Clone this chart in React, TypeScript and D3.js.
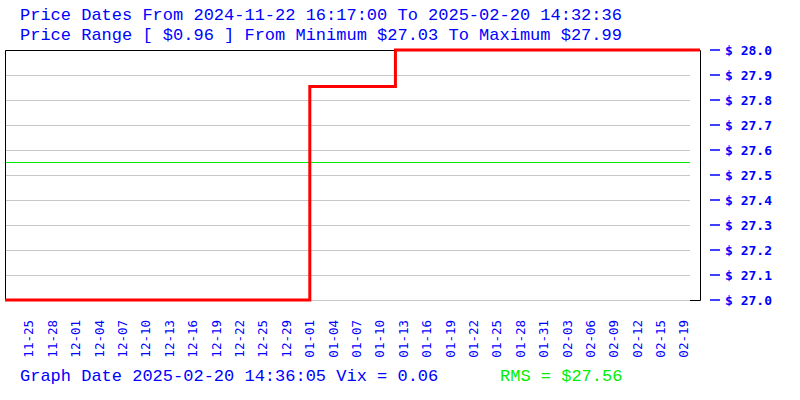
import React from "react";
import * as d3 from "d3";

// Tick labels along the bottom (evenly spaced slots)
const xLabels = [
  "11-25", "11-28", "12-01", "12-04", "12-07", "12-10", "12-13", "12-16",
  "12-19", "12-22", "12-25", "12-29", "01-01", "01-04", "01-07", "01-10",
  "01-13", "01-16", "01-19", "01-22", "01-25", "01-28", "01-31", "02-03",
  "02-06", "02-09", "02-12", "02-15", "02-19",
];
// Price series: position in label-slot units, price
const pricePos = [-1.03, 12.0, 12.0, 15.66, 15.66, 28.68];
const priceVal = [27.03, 27.03, 27.85, 27.85, 27.99, 27.99];
const xDomain = [-1.03, 28.68];
const priceMin = 27.03;
const priceMax = 27.99;
const rms = 27.56;
const yTickCount = 10;

const titleLine1 = "Price Dates From 2024-11-22 16:17:00 To 2025-02-20 14:32:36";
const titleLine2 = "Price Range [ $0.96 ] From Minimum $27.03 To Maximum $27.99";
const footerLeft = "Graph Date 2025-02-20 14:36:05 Vix = 0.06";
const footerRight = "RMS = $27.56";

const BLUE = "#0000ff";
const GREEN = "#00ee00";
const MONO = "'Liberation Mono', monospace";
const DJ = "'DejaVu Sans Mono', monospace";

export default function App() {
  const left = 5, right = 700, top = 50, bottom = 300, gridRight = 690;
  const x = d3.scaleLinear().domain(xDomain).range([left, right]);
  const y = d3.scaleLinear().domain([priceMin, priceMax]).range([bottom, top]);
  const yTicks = d3.range(yTickCount + 1).map(
    (i) => priceMin + (i * (priceMax - priceMin)) / yTickCount
  );
  const pts: [number, number][] = pricePos.map((p, i) => [p, priceVal[i]]);
  const line = d3
    .line<[number, number]>()
    .x((d) => x(d[0]))
    .y((d) => y(d[1]));

  return (
    <svg
      width={800}
      height={400}
      style={{ position: "absolute", left: 0, top: 0, background: "#fff" }}
    >
      <rect x={0} y={0} width={800} height={400} fill="#fff" />
      <text x={20} y={20} fontFamily={MONO} fontSize={17} fill={BLUE}>
        {titleLine1}
      </text>
      <text x={20} y={40} fontFamily={MONO} fontSize={17} fill={BLUE}>
        {titleLine2}
      </text>

      {/* gridlines */}
      {yTicks.map((t, i) => (
        <line
          key={"g" + i}
          x1={left}
          x2={gridRight}
          y1={Math.round(y(t)) + 0.5}
          y2={Math.round(y(t)) + 0.5}
          stroke="#c8c8c8"
          strokeWidth={1}
        />
      ))}
      {/* RMS line */}
      <line
        x1={left}
        x2={gridRight}
        y1={Math.round(y(rms)) + 0.5}
        y2={Math.round(y(rms)) + 0.5}
        stroke={GREEN}
        strokeWidth={1}
      />

      {/* frame */}
      <path
        d={`M${left + 0.5},${bottom} L${left + 0.5},${top + 0.5} L${right + 0.5},${top + 0.5} L${right + 0.5},${bottom + 0.5} L${gridRight},${bottom + 0.5}`}
        fill="none"
        stroke="#000"
        strokeWidth={1}
      />

      {/* price */}
      <path d={line(pts) || ""} fill="none" stroke="#ff0000" strokeWidth={3} />

      {/* right axis */}
      {yTicks.map((t, i) => (
        <g key={"t" + i}>
          <line
            x1={710}
            x2={720}
            y1={y(t)}
            y2={y(t)}
            stroke={BLUE}
            strokeWidth={1.5}
          />
          <text
            x={725}
            y={y(t) + 4.5}
            fontFamily={DJ}
            fontWeight="bold"
            fontSize={13}
            fill={BLUE}
          >
            {"$ " + t.toFixed(1)}
          </text>
        </g>
      ))}

      {/* x labels */}
      {xLabels.map((lab, i) => (
        <text
          key={"x" + i}
          transform={`translate(${x(i)},320) rotate(-90)`}
          textAnchor="end"
          dy="0.35em"
          fontFamily={DJ}
          fontSize={12.5}
          fill={BLUE}
        >
          {lab}
        </text>
      ))}

      <text x={20} y={381} fontFamily={MONO} fontSize={17} fill={BLUE}>
        {footerLeft}
      </text>
      <text x={500} y={381} fontFamily={MONO} fontSize={17} fill={GREEN}>
        {footerRight}
      </text>
    </svg>
  );
}
